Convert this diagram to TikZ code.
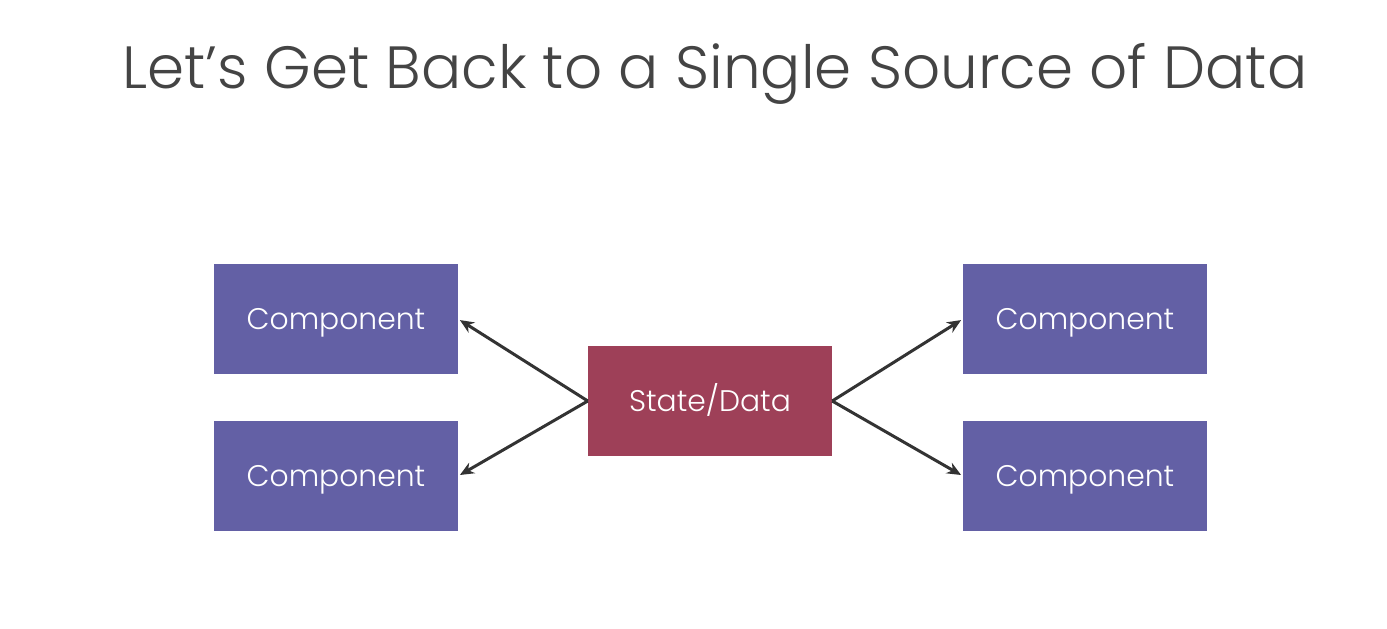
\documentclass[tikz,border=0pt]{standalone}
\usepackage{fontspec}
\setmainfont{Poppins}[UprightFont=* Light]
\usetikzlibrary{arrows.meta}
\definecolor{compblue}{RGB}{99,96,165}
\definecolor{statered}{RGB}{158,64,88}
\definecolor{textgray}{RGB}{68,68,68}
\definecolor{arrowgray}{RGB}{51,51,51}

\begin{document}
\begin{tikzpicture}[x=1pt,y=-1pt,
  comp/.style={fill=compblue,text=white,minimum width=244pt,minimum height=110pt,inner sep=0pt,
    font=\fontsize{29.8}{32}\selectfont,text depth=0pt,text height=21pt},
  store/.style={comp,fill=statered},
  link/.style={draw=arrowgray,line width=3pt,-{Stealth[length=14pt,width=12pt]},shorten >=2pt}]
\useasboundingbox (0,0) rectangle (1387,629);

\node[text=textgray,font=\fontsize{59.6}{64}\selectfont] (title) at (715,74) {Let’s Get Back to a Single Source of Data};

\node[store] (state) at (710,401) {State/Data};
\node[comp] (lefttop) at (336,319) {Component};
\node[comp] (leftbot) at (336,476) {Component};
\node[comp] (righttop) at (1085,319) {Component};
\node[comp] (rightbot) at (1085,476) {Component};

\draw[link] (state.west) -- (lefttop.east);
\draw[link] (state.west) -- (leftbot.east);
\draw[link] (state.east) -- (righttop.west);
\draw[link] (state.east) -- (rightbot.west);
\end{tikzpicture}
\end{document}
